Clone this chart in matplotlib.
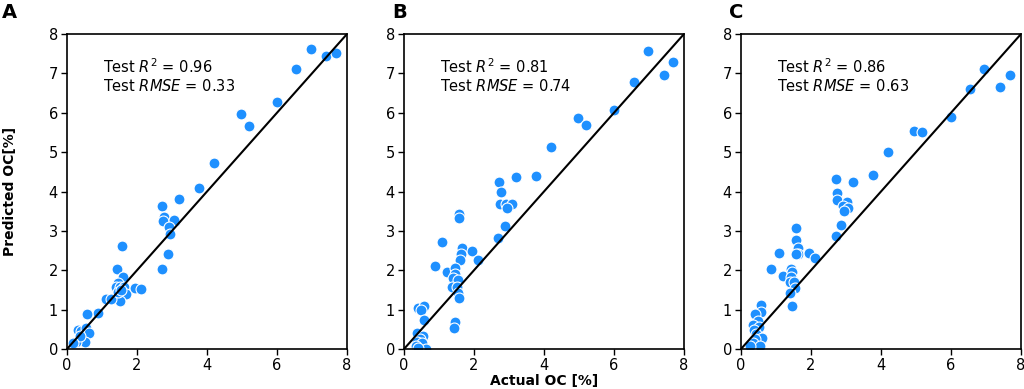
import matplotlib
matplotlib.use("Agg")
import matplotlib.pyplot as plt

# Panel A
a_actual = [6.97, 7.41, 7.68, 6.55, 6.01, 4.98, 5.19, 4.19, 3.78, 3.20, 2.71, 2.76, 2.74, 3.09, 3.06, 2.91,
            2.95, 2.88, 2.70, 1.56, 1.43, 1.60, 1.47, 1.40, 1.52, 1.62, 1.68, 1.52, 1.95, 2.12, 1.10, 1.27,
            0.88, 0.57, 0.31, 0.41, 0.55, 0.63, 0.50, 0.25, 0.38, 0.17, 1.45, 1.55]
a_pred = [7.61, 7.45, 7.51, 7.12, 6.27, 5.97, 5.67, 4.72, 4.08, 3.82, 3.64, 3.35, 3.26, 3.26, 3.28, 3.11,
          2.92, 2.41, 2.02, 2.62, 2.03, 1.83, 1.67, 1.57, 1.57, 1.57, 1.40, 1.23, 1.56, 1.53, 1.26, 1.28,
          0.92, 0.89, 0.49, 0.45, 0.53, 0.41, 0.17, 0.19, 0.32, 0.15, 1.45, 1.50]

# Panel B
b_actual = [6.96, 7.68, 7.43, 6.56, 6.00, 4.98, 5.20, 4.19, 3.77, 3.20, 2.70, 2.76, 2.73, 2.90, 3.08, 2.94,
            2.88, 2.69, 1.57, 1.56, 1.09, 1.66, 1.63, 1.60, 1.95, 2.12, 0.88, 1.22, 1.46, 1.47, 1.41, 1.53,
            1.37, 1.51, 1.55, 1.58, 1.47, 1.42, 0.41, 0.56, 0.48, 0.57, 0.38, 0.55, 0.46, 0.38, 0.52, 0.34,
            0.63, 0.41]
b_pred = [7.56, 7.29, 6.95, 6.77, 6.07, 5.86, 5.69, 5.14, 4.39, 4.36, 4.25, 3.99, 3.67, 3.69, 3.69, 3.58,
          3.12, 2.82, 3.42, 3.32, 2.73, 2.56, 2.41, 2.27, 2.48, 2.27, 2.12, 1.95, 2.06, 1.91, 1.80, 1.76,
          1.57, 1.57, 1.42, 1.30, 0.69, 0.53, 1.04, 1.08, 0.98, 0.74, 0.41, 0.34, 0.25, 0.19, 0.15, 0.07,
          0.00, 0.03]

# Panel C
c_actual = [6.95, 7.68, 7.41, 6.53, 6.00, 4.95, 5.17, 4.19, 3.76, 3.19, 2.70, 2.75, 2.73, 3.04, 2.90, 3.07,
            2.94, 2.87, 2.70, 1.57, 1.56, 1.62, 1.64, 1.58, 1.09, 1.94, 2.12, 0.87, 1.20, 1.44, 1.45, 1.43,
            1.39, 1.51, 1.55, 1.41, 1.45, 0.56, 0.58, 0.39, 0.48, 0.34, 0.51, 0.36, 0.44, 0.61, 0.41, 0.34,
            0.53, 0.27]
c_pred = [7.10, 6.95, 6.65, 6.60, 5.89, 5.54, 5.50, 5.01, 4.41, 4.23, 4.31, 3.97, 3.79, 3.74, 3.62, 3.57,
          3.51, 3.14, 2.88, 3.08, 2.77, 2.56, 2.42, 2.42, 2.43, 2.43, 2.31, 2.03, 1.86, 2.03, 1.95, 1.83,
          1.69, 1.69, 1.54, 1.42, 1.08, 1.12, 0.93, 0.88, 0.72, 0.62, 0.56, 0.49, 0.39, 0.27, 0.25, 0.15,
          0.08, 0.07]

panel_labels = ["A", "B", "C"]
r2_values = ["0.96", "0.81", "0.86"]
rmse_values = ["0.33", "0.74", "0.63"]

data = [(a_actual, a_pred), (b_actual, b_pred), (c_actual, c_pred)]

fig = plt.figure(figsize=(10.24, 3.89), dpi=100)
lefts = [67 / 1024, 404 / 1024, 741 / 1024]
width = 280 / 1024
bottom = 1 - 349 / 389
height = 315 / 389
label_x = [2 / 1024, 392 / 1024, 729 / 1024]

for i, (xs, ys) in enumerate(data):
    ax = fig.add_axes([lefts[i], bottom, width, height])
    ax.plot([0, 8], [0, 8], color="black", lw=1.5, zorder=3)
    ax.scatter(xs, ys, s=62, color="#1E90FF", edgecolors="white", linewidths=0.8, zorder=2)
    ax.set_xlim(0, 8)
    ax.set_ylim(0, 8)
    ax.set_xticks([0, 2, 4, 6, 8])
    ax.set_yticks(range(0, 9))
    ax.tick_params(labelsize=10.5, length=4, width=1, colors="black", pad=2.5)
    for sp in ax.spines.values():
        sp.set_linewidth(1.2)
        sp.set_color("black")
    ax.text(0.13, 0.925,
            f"Test $R^2$ = {r2_values[i]}\nTest $RMSE$ = {rmse_values[i]}",
            transform=ax.transAxes, ha="left", va="top", fontsize=10.5, linespacing=1.15)
    fig.text(label_x[i], 1 - 3 / 389, panel_labels[i],
             fontsize=14, fontweight="bold", ha="left", va="top")
    if i == 0:
        ax.set_ylabel("Predicted OC[%]", fontsize=10, fontweight="bold")
        ax.yaxis.set_label_coords(-0.18, 0.5)
    if i == 1:
        ax.set_xlabel("Actual OC [%]", fontsize=10, fontweight="bold", labelpad=1)

fig.savefig("out.png", dpi=100)
